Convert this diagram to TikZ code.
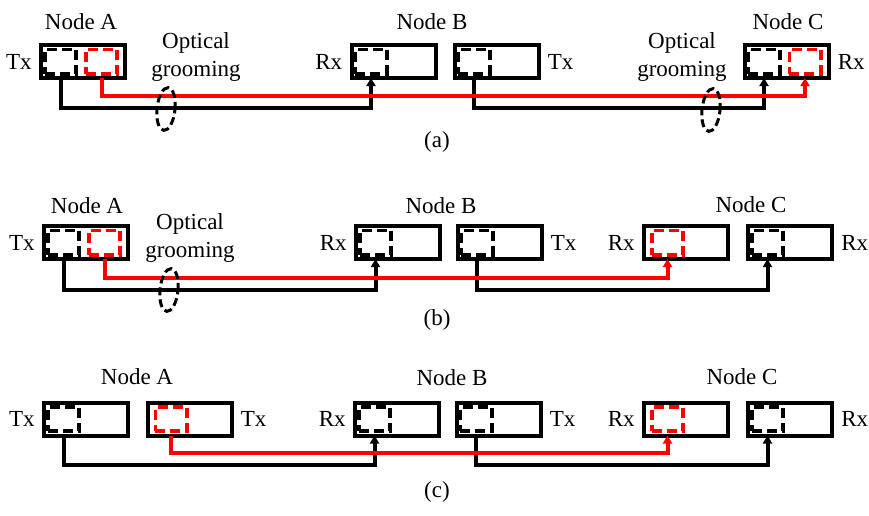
\documentclass[tikz,border=0pt]{standalone}
\usepackage{fontspec}
\setmainfont{Liberation Serif}
\usepackage{tikz}
\usetikzlibrary{positioning, arrows.meta, shapes.geometric}
\tikzset{
    trx/.style={rectangle, draw=black, line width=2pt, fill=white, minimum width=42pt, minimum height=16.5pt, inner sep=0pt, outer sep=0pt},
    port/.style={rectangle, draw=black, line width=1.8pt, dash pattern=on 5pt off 2.5pt, minimum width=15.7pt, minimum height=12.2pt, inner sep=0pt, outer sep=0pt},
    redport/.style={port, draw=red},
    fiber/.style={draw=black, line width=2pt},
    redfiber/.style={fiber, draw=red},
    arr/.style={-{Triangle[length=4pt, width=4.5pt]}},
    groom/.style={ellipse, draw=black, dash pattern=on 4pt off 2pt, line width=1.5pt, minimum width=9pt, minimum height=21.5pt, inner sep=0pt},
    txrx/.style={font=\fontsize{11.5}{14}\selectfont, inner sep=0pt},
    nodename/.style={font=\fontsize{11.5}{14}\selectfont, inner sep=0pt},
    groomtext/.style={font=\fontsize{11.5}{14}\selectfont, align=center, inner sep=0pt}
}
\begin{document}
\begin{tikzpicture}[x=0.5pt, y=-0.5pt]
        \useasboundingbox (0,0) rectangle (869,515);

        % ---------- (a) ----------
        \node[trx] (aA) at (83,61.5) {};
        \node[trx] (aBr) at (393.5,61.5) {};
        \node[trx] (aBt) at (496.5,61.5) {};
        \node[trx] (aC) at (786.5,61.5) {};
        \node[port, right=1.9pt of aA.west] (aAp) {};
        \node[redport, left=3.9pt of aA.east] (aAr) {};
        \node[port, right=1.9pt of aBr.west] (aBrp) {};
        \node[port, right=1.9pt of aBt.west] (aBtp) {};
        \node[port, right=1.9pt of aC.west] (aCp) {};
        \node[redport, left=3.9pt of aC.east] (aCr) {};

        \node[nodename] at (81,21.5) {Node A};
        \node[nodename] at (432,21.5) {Node B};
        \node[nodename] at (788,21.5) {Node C};
        \node[txrx, left=4.5pt of aA] {Tx};
        \node[txrx, left=4.5pt of aBr] {Rx};
        \node[txrx, right=4.5pt of aBt] {Tx};
        \node[txrx, right=4.5pt of aC] {Rx};
        \node[groomtext] at (196,56.5) {Optical\\grooming};
        \node[groomtext] at (682,56.5) {Optical\\grooming};

        \draw[fiber, arr] (aAp.south |- aA.south) -- (aAp.south |- 0,108) -| (aBrp.south |- aBr.south);
        \draw[fiber, arr] (aBtp.south |- aBt.south) -- (aBtp.south |- 0,108) -| (aCp.south |- aC.south);
        \draw[redfiber, arr] (aAr.south |- aA.south) -- (aAr.south |- 0,96) -| (aCr.south |- aC.south);
        \node[groom, rotate=-6] (aG1) at (166,109) {};
        \node[groom, rotate=-6] (aG2) at (711,110) {};
        \node[txrx] at (437,142) {(a)};

        % ---------- (b) ----------
        \node[trx] (bA) at (86,242.5) {};
        \node[trx] (bBr) at (398,242.5) {};
        \node[trx] (bBt) at (499.5,242.5) {};
        \node[trx] (bCr) at (686,242.5) {};
        \node[trx] (bCt) at (790,242.5) {};
        \node[port, right=1.9pt of bA.west] (bAp) {};
        \node[redport, left=3.9pt of bA.east] (bAr) {};
        \node[port, right=1.9pt of bBr.west] (bBrp) {};
        \node[port, right=1.9pt of bBt.west] (bBtp) {};
        \node[redport, right=3.9pt of bCr.west] (bCrp) {};
        \node[port, right=1.9pt of bCt.west] (bCtp) {};

        \node[nodename] at (87,206) {Node A};
        \node[nodename] at (441,206) {Node B};
        \node[nodename] at (751,205) {Node C};
        \node[txrx, left=4.5pt of bA] {Tx};
        \node[txrx, left=4.5pt of bBr] {Rx};
        \node[txrx, right=4.5pt of bBt] {Tx};
        \node[txrx, left=4.5pt of bCr] {Rx};
        \node[txrx, right=4.5pt of bCt] {Rx};
        \node[groomtext] at (190,237.5) {Optical\\grooming};

        \draw[fiber, arr] (bAp.south |- bA.south) -- (bAp.south |- 0,290) -| (bBrp.south |- bBr.south);
        \draw[fiber, arr] (bBtp.south |- bBt.south) -- (bBtp.south |- 0,290) -| (bCtp.south |- bCt.south);
        \draw[redfiber, arr] (bAr.south |- bA.south) -- (bAr.south |- 0,278) -| (bCrp.south |- bCr.south);
        \node[groom, rotate=-6] (bG) at (169,290) {};
        \node[txrx] at (437,320) {(b)};

        % ---------- (c) ----------
        \node[trx] (cA1) at (86,419) {};
        \node[trx] (cA2) at (189.5,419) {};
        \node[trx] (cBr) at (397,419) {};
        \node[trx] (cBt) at (498.5,419) {};
        \node[trx] (cCr) at (686,419) {};
        \node[trx] (cCt) at (790,419) {};
        \node[port, right=1.9pt of cA1.west] (cA1p) {};
        \node[redport, right=3.9pt of cA2.west] (cA2p) {};
        \node[port, right=1.9pt of cBr.west] (cBrp) {};
        \node[port, right=1.9pt of cBt.west] (cBtp) {};
        \node[redport, right=3.9pt of cCr.west] (cCrp) {};
        \node[port, right=1.9pt of cCt.west] (cCtp) {};

        \node[nodename] at (137,377) {Node A};
        \node[nodename] at (452,378) {Node B};
        \node[nodename] at (742,377) {Node C};
        \node[txrx, left=4.5pt of cA1] {Tx};
        \node[txrx, right=4.5pt of cA2] {Tx};
        \node[txrx, left=4.5pt of cBr] {Rx};
        \node[txrx, right=4.5pt of cBt] {Tx};
        \node[txrx, left=4.5pt of cCr] {Rx};
        \node[txrx, right=4.5pt of cCt] {Rx};

        \draw[fiber, arr] (cA1p.south |- cA1.south) -- (cA1p.south |- 0,465) -| (cBrp.south |- cBr.south);
        \draw[fiber, arr] (cBtp.south |- cBt.south) -- (cBtp.south |- 0,465) -| (cCtp.south |- cCt.south);
        \draw[redfiber, arr] (cA2p.south |- cA2.south) -- (cA2p.south |- 0,453) -| (cCrp.south |- cCr.south);
        \node[txrx] at (437,492) {(c)};
    \end{tikzpicture}
\end{document}
